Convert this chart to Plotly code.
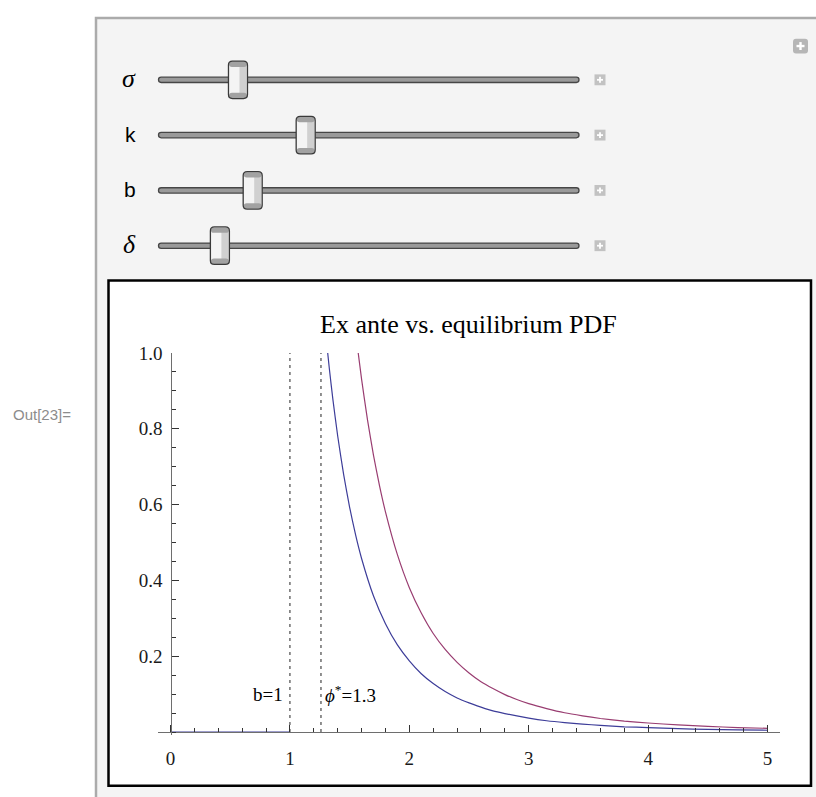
import plotly.graph_objects as go

W, H = 816, 797

# ---------------- data ----------------
ex_ante_x = [0.0, 1.0, None, 1.25, 1.28, 1.30, 1.33, 1.36, 1.40, 1.45, 1.50, 1.55, 1.60, 1.70,
             1.80, 1.90, 2.00, 2.10, 2.20, 2.30, 2.40, 2.50, 2.60, 2.70, 2.80, 3.00, 3.15, 3.30,
             3.45, 3.60, 3.80, 4.00, 4.25, 4.50, 4.75, 5.00]
ex_ante_y = [0.0, 0.0, None, 1.229, 1.118, 1.050, 0.959, 0.877, 0.781, 0.679, 0.593, 0.520, 0.458, 0.359,
             0.286, 0.230, 0.188, 0.154, 0.128, 0.107, 0.090, 0.077, 0.066, 0.056, 0.049, 0.037, 0.030, 0.025,
             0.021, 0.018, 0.014, 0.012, 0.009, 0.007, 0.006, 0.005]

equil_x = [1.50, 1.53, 1.56, 1.60, 1.65, 1.70, 1.75, 1.80, 1.90, 2.00, 2.10, 2.20, 2.30, 2.40, 2.50,
           2.60, 2.70, 2.80, 2.90, 3.00, 3.15, 3.30, 3.45, 3.60, 3.80, 4.00, 4.25, 4.50, 4.75, 5.00]
equil_y = [1.205, 1.113, 1.030, 0.931, 0.823, 0.730, 0.650, 0.581, 0.468, 0.381, 0.314, 0.260, 0.218, 0.184, 0.156,
           0.133, 0.115, 0.099, 0.086, 0.075, 0.062, 0.051, 0.043, 0.036, 0.029, 0.024, 0.019, 0.015, 0.012, 0.010]

b_value = 1.0
phi_star = 1.26
b_label = "b=1"
phi_label = "<i>ϕ</i><sup>*</sup>=1.3"

x_tick_vals = [0, 1, 2, 3, 4, 5]
x_tick_text = ["0", "1", "2", "3", "4", "5"]
y_tick_vals = [0.2, 0.4, 0.6, 0.8, 1.0]
y_tick_text = ["0.2", "0.4", "0.6", "0.8", "1.0"]

title_text = "Ex ante vs. equilibrium PDF"
out_label = "Out[23]="

slider_labels = ["σ", "k", "b", "δ"]
slider_italic = [True, False, False, True]
slider_pos = [0.189, 0.350, 0.224, 0.146]   # thumb position along the track (0..1)

# ---------------- helpers (pixel -> paper) ----------------
def PX(px):
    return px / W

def PY(py):
    return 1 - py / H

def rrect(x0, y0, x1, y1, r):
    pts = [
        f"M{PX(x0 + r)},{PY(y0)}", f"L{PX(x1 - r)},{PY(y0)}", f"Q{PX(x1)},{PY(y0)} {PX(x1)},{PY(y0 + r)}",
        f"L{PX(x1)},{PY(y1 - r)}", f"Q{PX(x1)},{PY(y1)} {PX(x1 - r)},{PY(y1)}",
        f"L{PX(x0 + r)},{PY(y1)}", f"Q{PX(x0)},{PY(y1)} {PX(x0)},{PY(y1 - r)}",
        f"L{PX(x0)},{PY(y0 + r)}", f"Q{PX(x0)},{PY(y0)} {PX(x0 + r)},{PY(y0)}", "Z",
    ]
    return " ".join(pts)

def rect(x0, y0, x1, y1, fill, line_color=None, lw=0):
    return dict(type="rect", xref="paper", yref="paper", x0=PX(x0), x1=PX(x1), y0=PY(y1), y1=PY(y0),
                fillcolor=fill, line=dict(color=line_color or fill, width=lw), layer="below")

def path(p, fill, line_color, lw):
    return dict(type="path", xref="paper", yref="paper", path=p, fillcolor=fill,
                line=dict(color=line_color, width=lw), layer="below")

shapes = []
annotations = []

# outer Manipulate frame
shapes.append(rect(96, 8, 830, 810, "#f4f4f4", "#ababab", 2.5))
# white plot box
shapes.append(rect(108.5, 274, 811, 785.5, "#ffffff", "#000000", 2.5))

# sliders
track_x0, track_x1 = 158.5, 579.0
row_y = [70.7, 126.7, 182.7, 238.7]
thumb_w, thumb_h = 19, 38
for lab, ital, pos, ry in zip(slider_labels, slider_italic, slider_pos, row_y):
    # track
    shapes.append(path(rrect(track_x0, ry - 2.7, track_x1, ry + 2.7, 2.7), "#9a9a9a", "#464646", 1.3))
    # thumb
    cx = track_x0 + pos * (track_x1 - track_x0)
    tx0, tx1 = cx - thumb_w / 2, cx + thumb_w / 2
    ty0, ty1 = ry - thumb_h / 2, ry + thumb_h / 2
    shapes.append(path(rrect(tx0, ty0, tx1, ty1, 4), "#f4f4f4", "#f4f4f4", 0))
    shapes.append(rect(tx0 + 11, ty0 + 4, tx1 - 1, ty1 - 4, "#d0d0d0"))
    shapes.append(path(rrect(tx0 + 0.5, ty0 + 0.5, tx1 - 0.5, ty0 + 6, 3), "#a2a2a2", "#a2a2a2", 0))
    shapes.append(path(rrect(tx0 + 0.5, ty1 - 6, tx1 - 0.5, ty1 - 0.5, 3), "#a2a2a2", "#a2a2a2", 0))
    shapes.append(path(rrect(tx0, ty0, tx1, ty1, 4), "rgba(0,0,0,0)", "#3a3a3a", 1.3))
    # plus icon
    shapes.append(rect(594.5, ry - 5.5, 605.5, ry + 5.5, "#c2c2c2"))
    shapes.append(rect(597, ry - 0.9, 603, ry + 0.9, "#ffffff"))
    shapes.append(rect(599.1, ry - 3, 600.9, ry + 3, "#ffffff"))
    # label
    if ital:
        annotations.append(dict(xref="paper", yref="paper", x=PX(129), y=PY(ry - 1), text=f"<i>{lab}</i>",
                                showarrow=False, xanchor="center", yanchor="middle",
                                font=dict(family="Liberation Serif", size=26, color="#000000")))
    else:
        annotations.append(dict(xref="paper", yref="paper", x=PX(130), y=PY(ry - 1), text=lab,
                                showarrow=False, xanchor="center", yanchor="middle",
                                font=dict(family="Liberation Sans", size=21, color="#000000")))

# top-right plus icon
shapes.append(path(rrect(793, 29, 808, 44, 3), "#b6b6b6", "#b6b6b6", 0))
shapes.append(rect(796.5, 35.3, 804.5, 37.7, "#ffffff"))
shapes.append(rect(799.3, 32.5, 801.7, 40.5, "#ffffff"))

# Out[23]= label
annotations.append(dict(xref="paper", yref="paper", x=PX(11), y=PY(410), text=out_label,
                        showarrow=False, xanchor="left", yanchor="middle",
                        font=dict(family="Liberation Sans", size=15, color="#8c8c8c")))

# title
annotations.append(dict(xref="paper", yref="paper", x=PX(469), y=PY(318), text=title_text,
                        showarrow=False, xanchor="center", yanchor="middle",
                        font=dict(family="Liberation Serif", size=26, color="#000000")))

# reference line labels
annotations.append(dict(xref="x", yref="y", x=b_value, y=0.1, text=b_label, xshift=-5,
                        showarrow=False, xanchor="right", yanchor="middle",
                        font=dict(family="Liberation Serif", size=19, color="#000000")))
annotations.append(dict(xref="x", yref="y", x=phi_star, y=0.1, text=phi_label, xshift=2,
                        showarrow=False, xanchor="left", yanchor="middle",
                        font=dict(family="Liberation Serif", size=19, color="#000000")))

# ---------------- axes geometry ----------------
x0_px, x5_px = 170.5, 767.6
ux = (x5_px - x0_px) / 5
ax_left, ax_right = 158.0, 780.0
y0_py, y1_py = 731.3, 347.3
uy = y0_py - y1_py
y_low = -0.008

fig = go.Figure()

# dotted reference lines
for xv in [b_value, phi_star]:
    fig.add_trace(go.Scatter(x=[xv, xv], y=[0, 1.0], mode="lines", hoverinfo="skip",
                             line=dict(color="#555555", width=1.3, dash="3px,4px"), showlegend=False))

fig.add_trace(go.Scatter(x=ex_ante_x, y=ex_ante_y, mode="lines", connectgaps=False,
                         line=dict(color="#3d3d99", width=1.2, shape="spline", smoothing=0.5),
                         showlegend=False, name="Ex ante"))
fig.add_trace(go.Scatter(x=equil_x, y=equil_y, mode="lines",
                         line=dict(color="#993d71", width=1.2, shape="spline", smoothing=0.5),
                         showlegend=False, name="Equilibrium"))

tick_font = dict(family="Liberation Serif", size=19, color="#1a1a1a")

fig.update_layout(
    width=W, height=H,
    margin=dict(l=0, r=0, t=0, b=0),
    paper_bgcolor="#ffffff",
    plot_bgcolor="rgba(0,0,0,0)",
    shapes=shapes,
    annotations=annotations,
    xaxis=dict(
        domain=[PX(ax_left), PX(ax_right)],
        range=[(ax_left - x0_px) / ux, (ax_right - x0_px) / ux],
        anchor="free", position=PY(y0_py),
        showline=True, linecolor="#6e6e6e", linewidth=1.2,
        ticks="inside", ticklen=7, tickwidth=1, tickcolor="#333333",
        tickvals=x_tick_vals, ticktext=x_tick_text, tickfont=tick_font,
        ticklabelstandoff=9,
        minor=dict(tickmode="linear", tick0=0, dtick=0.2, ticks="inside", ticklen=4,
                   tickwidth=1, tickcolor="#333333", showgrid=False),
        showgrid=False, zeroline=False, fixedrange=True,
    ),
    yaxis=dict(
        domain=[1 - (y0_py - y_low * uy) / H, PY(y1_py)],
        range=[y_low, 1.0],
        anchor="free", position=PX(x0_px),
        showline=True, linecolor="#6e6e6e", linewidth=1.2,
        ticks="inside", ticklen=7, tickwidth=1, tickcolor="#333333",
        tickvals=y_tick_vals, ticktext=y_tick_text, tickfont=tick_font,
        ticklabelstandoff=4,
        minor=dict(tickmode="linear", tick0=0, dtick=0.05, ticks="inside", ticklen=4,
                   tickwidth=1, tickcolor="#333333", showgrid=False),
        showgrid=False, zeroline=False, fixedrange=True,
    ),
)

fig.write_html("out.html", config={"displayModeBar": False})
